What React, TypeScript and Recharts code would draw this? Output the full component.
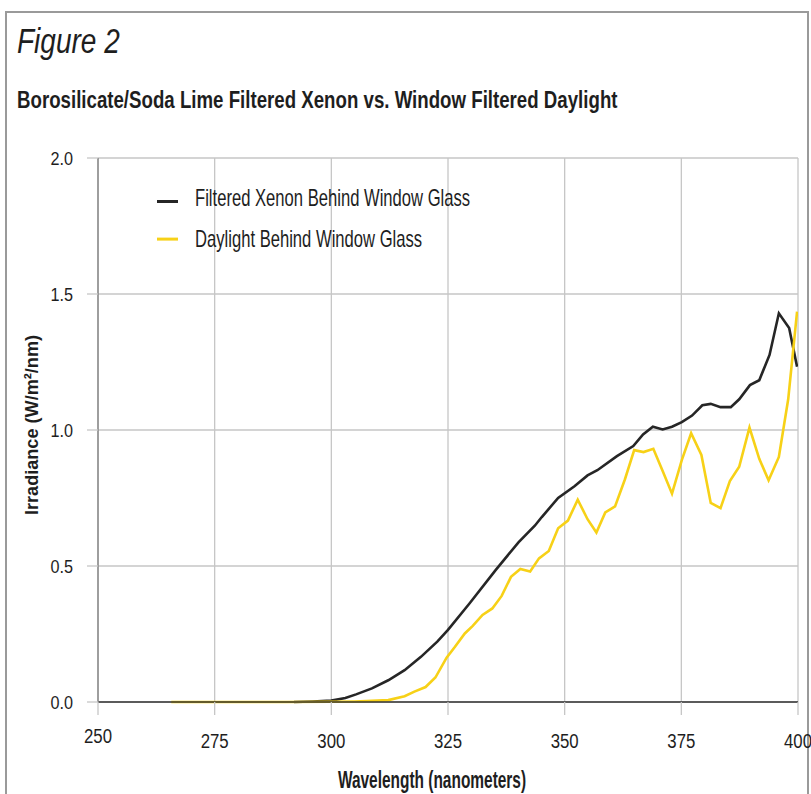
import React from 'react';
import { LineChart, Line, XAxis, YAxis, CartesianGrid, Legend } from 'recharts';

const FONT = "'Liberation Sans', Arial, 'Helvetica', sans-serif";

const TITLE = 'Figure 2';
const SUBTITLE = 'Borosilicate/Soda Lime Filtered Xenon vs. Window Filtered Daylight';
const X_LABEL = 'Wavelength (nanometers)';
const Y_LABEL = 'Irradiance (W/m²/nm)';

const X_TICKS = [250, 275, 300, 325, 350, 375, 400];
const Y_TICKS = [0, 0.5, 1.0, 1.5, 2.0];

const XENON_NAME = 'Filtered Xenon Behind Window Glass';
const DAYLIGHT_NAME = 'Daylight Behind Window Glass';
const XENON_COLOR = '#262626';
const DAYLIGHT_COLOR = '#f7d117';

const xenonWl = [292, 296, 300, 303, 305.3, 308.7, 312.2, 315.7, 319.2, 322.7, 325, 329.6, 335.2, 340.1, 343.6, 345.1, 348.6, 352.1, 354.9, 357, 361.2, 364.7, 366.8, 368.9, 371, 373, 375.1, 377.3, 379.5, 381.3, 383.4, 385.6, 387.4, 389.7, 391.7, 393.9, 395.9, 398.1, 399.8];
const xenonVal = [0, 0.002, 0.005, 0.015, 0.028, 0.05, 0.08, 0.117, 0.166, 0.222, 0.265, 0.362, 0.485, 0.587, 0.648, 0.68, 0.75, 0.793, 0.833, 0.852, 0.904, 0.941, 0.984, 1.012, 1.002, 1.012, 1.029, 1.053, 1.091, 1.096, 1.084, 1.084, 1.113, 1.165, 1.183, 1.276, 1.429, 1.375, 1.233];

const daylightWl = [265.7, 280, 290, 300, 305, 308.7, 312.2, 315.7, 317.8, 320.2, 322.3, 324.7, 326.5, 328.6, 330.3, 332.4, 334.5, 336.5, 338.5, 340.5, 342.6, 344.5, 346.6, 348.6, 350.7, 352.8, 354.9, 356.8, 358.7, 360.8, 362.9, 364.9, 366.9, 369, 371, 373, 375.1, 377.1, 379.3, 381.3, 383.4, 385.4, 387.4, 389.6, 391.7, 393.7, 395.9, 397.9, 399.8];
const daylightVal = [0, 0, 0, 0.001, 0.002, 0.004, 0.007, 0.021, 0.038, 0.055, 0.09, 0.163, 0.203, 0.252, 0.28, 0.32, 0.344, 0.39, 0.46, 0.489, 0.48, 0.528, 0.555, 0.639, 0.667, 0.744, 0.672, 0.623, 0.697, 0.719, 0.818, 0.926, 0.919, 0.931, 0.849, 0.766, 0.889, 0.988, 0.908, 0.732, 0.713, 0.812, 0.865, 1.009, 0.894, 0.815, 0.901, 1.113, 1.435];

const xenonData = xenonWl.map((wl, i) => ({ wl, v: xenonVal[i] }));
const daylightData = daylightWl.map((wl, i) => ({ wl, v: daylightVal[i] }));

const SERIES = [
  { name: XENON_NAME, color: XENON_COLOR },
  { name: DAYLIGHT_NAME, color: DAYLIGHT_COLOR },
];

// horizontally condensed text (the reference uses a condensed face)
const SText = (props: any) => {
  const { x, y, sx = 1, rotate = 0, anchor = 'start', children, ...rest } = props;
  const tf = `translate(${x},${y})` + (rotate ? ` rotate(${rotate})` : '') + ` scale(${sx},1)`;
  return (
    <g transform={tf}>
      <text x={0} y={0} textAnchor={anchor} fontFamily={FONT} fill="#1e1e1e" {...rest}>
        {children}
      </text>
    </g>
  );
};

const XTick = (props: any) => {
  const { x, y, payload } = props;
  const first = payload.value === X_TICKS[0];
  return (
    <SText x={x} y={y + (first ? 28 : 33)} sx={0.8} anchor="middle" fontSize={21}>
      {payload.value}
    </SText>
  );
};

const YTick = (props: any) => {
  const { x, y, payload } = props;
  return (
    <SText x={x} y={y + 6.5} sx={0.9} anchor="end" fontSize={18}>
      {Number(payload.value).toFixed(1)}
    </SText>
  );
};

const renderLegend = () => (
  <svg width={340} height={75} style={{ display: 'block' }}>
    {SERIES.map((s, i) => (
      <g key={s.name}>
        <line x1={2} x2={23} y1={21.5 + i * 37.6} y2={21.5 + i * 37.6} stroke={s.color} strokeWidth={3} />
        <SText x={40} y={26 + i * 40.7} sx={0.723} fontSize={23}>
          {s.name}
        </SText>
      </g>
    ))}
  </svg>
);

export default function App() {
  return (
    <div style={{ position: 'absolute', left: 0, top: 0, width: 811, height: 794, background: '#fff', overflow: 'hidden' }}>
      <svg width={811} height={794} style={{ position: 'absolute', left: 0, top: 0 }}>
        <rect x={6} y={12} width={802} height={800} fill="none" stroke="#9a9a9a" strokeWidth={2} />
        <SText x={17} y={53} sx={0.8} fontStyle="italic" fontSize={35}>
          {TITLE}
        </SText>
        <SText x={17} y={108} sx={0.778} fontWeight="bold" fontSize={24}>
          {SUBTITLE}
        </SText>
        <SText x={432} y={788} sx={0.672} anchor="middle" fontWeight="bold" fontSize={23}>
          {X_LABEL}
        </SText>
        <SText x={37.5} y={425} rotate={-90} sx={0.98} anchor="middle" fontWeight="bold" fontSize={18.5}>
          {Y_LABEL}
        </SText>
      </svg>
      <div style={{ position: 'absolute', left: 0, top: 0 }}>
        <LineChart width={811} height={794} margin={{ top: 158, right: 13, bottom: 32, left: 0 }}>
          <CartesianGrid stroke="#c6c6c6" strokeWidth={1.3} />
          <XAxis
            type="number"
            dataKey="wl"
            domain={[250, 400]}
            ticks={X_TICKS}
            allowDataOverflow
            height={60}
            tickSize={13}
            tickMargin={0}
            axisLine={{ stroke: '#333', strokeWidth: 1.5 }}
            tickLine={{ stroke: '#c6c6c6', strokeWidth: 1.3 }}
            tick={<XTick />}
          />
          <YAxis
            type="number"
            domain={[0, 2]}
            ticks={Y_TICKS}
            width={98}
            tickSize={11}
            tickMargin={14}
            axisLine={{ stroke: '#8a8a8a', strokeWidth: 1.5 }}
            tickLine={{ stroke: '#c6c6c6', strokeWidth: 1.3 }}
            tick={<YTick />}
          />
          <Legend
            layout="vertical"
            align="center"
            verticalAlign="middle"
            content={renderLegend}
            wrapperStyle={{ position: 'absolute', left: 155, top: 180, width: 340, height: 75 }}
          />
          <Line
            data={xenonData}
            dataKey="v"
            name={XENON_NAME}
            type="linear"
            stroke={XENON_COLOR}
            strokeWidth={2.6}
            dot={false}
            isAnimationActive={false}
          />
          <Line
            data={daylightData}
            dataKey="v"
            name={DAYLIGHT_NAME}
            type="linear"
            stroke={DAYLIGHT_COLOR}
            strokeWidth={2.6}
            dot={false}
            isAnimationActive={false}
          />
        </LineChart>
      </div>
    </div>
  );
}
